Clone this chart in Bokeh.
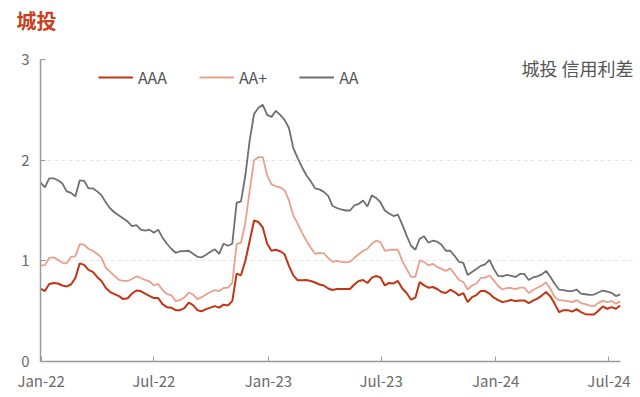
from datetime import date, datetime, timedelta
from bokeh.plotting import figure
from bokeh.models import Range1d, FixedTicker, Legend, LegendItem, Label, Title
from bokeh.embed import file_html
from bokeh.resources import INLINE

# ---- data (weekly) ----
start_date = date(2021, 12, 31)
n_weeks = 134
dates = [start_date + timedelta(days=7 * i) for i in range(n_weeks)]

aa = [1.78, 1.73, 1.82, 1.82, 1.80, 1.77, 1.69, 1.675, 1.64, 1.80,
      1.795, 1.72, 1.72, 1.69, 1.65, 1.58, 1.52, 1.48, 1.45, 1.42,
      1.39, 1.345, 1.355, 1.31, 1.30, 1.31, 1.28, 1.31, 1.23, 1.17,
      1.12, 1.08, 1.095, 1.097, 1.10, 1.07, 1.04, 1.035, 1.06, 1.09,
      1.115, 1.07, 1.17, 1.15, 1.17, 1.575, 1.59, 1.85, 2.20, 2.46,
      2.52, 2.55, 2.45, 2.43, 2.49, 2.45, 2.40, 2.32, 2.12, 2.02,
      1.93, 1.85, 1.79, 1.72, 1.71, 1.685, 1.645, 1.545, 1.525, 1.51,
      1.50, 1.50, 1.55, 1.565, 1.60, 1.54, 1.65, 1.625, 1.58, 1.50,
      1.47, 1.445, 1.46, 1.36, 1.25, 1.15, 1.11, 1.22, 1.244, 1.18,
      1.20, 1.19, 1.16, 1.10, 1.10, 1.05, 0.99, 0.98, 0.86, 0.89,
      0.92, 0.95, 0.965, 1.01, 0.92, 0.85, 0.846, 0.86, 0.85, 0.84,
      0.87, 0.87, 0.81, 0.835, 0.846, 0.865, 0.90, 0.84, 0.77, 0.713,
      0.708, 0.70, 0.70, 0.715, 0.674, 0.668, 0.662, 0.665, 0.685, 0.705,
      0.694, 0.682, 0.65, 0.667]

aa_plus = [0.955, 0.955, 1.03, 1.035, 1.01, 0.98, 0.975, 1.04, 1.045, 1.165,
           1.16, 1.12, 1.10, 1.07, 1.03, 0.93, 0.89, 0.85, 0.81, 0.80,
           0.80, 0.82, 0.845, 0.83, 0.81, 0.795, 0.756, 0.77, 0.71, 0.67,
           0.66, 0.60, 0.61, 0.635, 0.685, 0.665, 0.62, 0.64, 0.665, 0.69,
           0.71, 0.70, 0.73, 0.733, 0.78, 1.165, 1.18, 1.38, 1.70, 2.00,
           2.03, 2.03, 1.85, 1.76, 1.74, 1.73, 1.70, 1.60, 1.45, 1.37,
           1.28, 1.20, 1.13, 1.07, 1.08, 1.075, 1.03, 0.99, 1.00, 0.99,
           0.985, 0.99, 1.03, 1.065, 1.10, 1.12, 1.17, 1.20, 1.185, 1.10,
           1.11, 1.11, 1.11, 1.00, 0.92, 0.84, 0.84, 1.005, 0.99, 0.955,
           0.97, 0.94, 0.92, 0.90, 0.925, 0.87, 0.81, 0.79, 0.715, 0.755,
           0.775, 0.83, 0.833, 0.855, 0.806, 0.75, 0.715, 0.73, 0.73, 0.72,
           0.733, 0.733, 0.68, 0.71, 0.733, 0.755, 0.785, 0.72, 0.64, 0.607,
           0.607, 0.60, 0.59, 0.61, 0.58, 0.57, 0.555, 0.55, 0.58, 0.605,
           0.59, 0.60, 0.574, 0.597]

aaa = [0.723, 0.70, 0.77, 0.779, 0.775, 0.755, 0.746, 0.765, 0.83, 0.975,
       0.96, 0.91, 0.89, 0.84, 0.80, 0.73, 0.69, 0.67, 0.65, 0.62,
       0.628, 0.675, 0.705, 0.70, 0.675, 0.652, 0.63, 0.63, 0.57, 0.54,
       0.534, 0.51, 0.51, 0.53, 0.585, 0.56, 0.51, 0.50, 0.52, 0.535,
       0.55, 0.535, 0.565, 0.557, 0.60, 0.873, 0.856, 1.00, 1.20, 1.40,
       1.386, 1.33, 1.17, 1.10, 1.11, 1.095, 1.065, 0.95, 0.856, 0.806,
       0.806, 0.81, 0.80, 0.785, 0.765, 0.755, 0.725, 0.71, 0.72, 0.72,
       0.72, 0.72, 0.765, 0.80, 0.81, 0.78, 0.83, 0.85, 0.835, 0.756,
       0.78, 0.775, 0.80, 0.725, 0.68, 0.614, 0.634, 0.79, 0.756, 0.733,
       0.74, 0.72, 0.69, 0.68, 0.713, 0.69, 0.657, 0.68, 0.59, 0.64,
       0.66, 0.70, 0.70, 0.675, 0.634, 0.61, 0.59, 0.60, 0.61, 0.60,
       0.607, 0.607, 0.58, 0.605, 0.624, 0.655, 0.69, 0.645, 0.57, 0.49,
       0.51, 0.51, 0.495, 0.52, 0.49, 0.47, 0.468, 0.468, 0.505, 0.547,
       0.524, 0.54, 0.524, 0.557]

series_names = ["AAA", "AA+", "AA"]
tick_dates = [date(2022, 1, 1), date(2022, 7, 1), date(2023, 1, 1),
              date(2023, 7, 1), date(2024, 1, 1), date(2024, 7, 1)]
tick_labels = ["Jan-22", "Jul-22", "Jan-23", "Jul-23", "Jan-24", "Jul-24"]
y_ticks = [0, 1, 2, 3]
title_text = "城投"
note_text = "城投 信用利差"

# ---- styling ----
FONT = "Noto Sans CJK SC"
C_AAA = "#C23412"
C_AAP = "#E9A08B"
C_AA = "#6F6F6F"
AXIS_C = "#9A9A9A"
LABEL_C = "#6B6B6B"

def ms(d):
    return (datetime(d.year, d.month, d.day) - datetime(1970, 1, 1)).total_seconds() * 1000.0

xs = [ms(d) for d in dates]

W, H = 640, 397
LEFT, RIGHT_FRAME, DATA_END_PX = 40, 636, 619.7
x_start = ms(date(2021, 12, 31))
scale = (DATA_END_PX - LEFT) / (xs[-1] - x_start)
x_end = x_start + (RIGHT_FRAME - LEFT) / scale

p = figure(width=W, height=H, x_axis_type="datetime", title=None,
           output_backend="svg", toolbar_location=None,
           x_range=Range1d(x_start, x_end), y_range=Range1d(0, 3),
           min_border_left=LEFT, min_border_right=W - RIGHT_FRAME,
           min_border_top=59, min_border_bottom=36)

# spacer between frame and title, then the title itself
p.add_layout(Title(text=" ", text_font_size="1px", standoff=22), "above")
p.add_layout(Title(text=title_text, text_color="#C8401E", text_font=FONT,
                   text_font_size="20px", text_font_style="bold",
                   align="left", offset=-24, standoff=0), "above")

p.outline_line_color = None
p.background_fill_color = "white"
p.border_fill_color = "white"

# grid
p.xgrid.grid_line_color = None
p.ygrid.grid_line_color = "#E6E6E6"
p.ygrid.grid_line_dash = "4 3"
p.ygrid.grid_line_width = 1
p.ygrid.ticker = FixedTicker(ticks=y_ticks)

# axes
p.xaxis.ticker = FixedTicker(ticks=[ms(d) for d in tick_dates])
p.xaxis.major_label_overrides = {ms(d): lbl for d, lbl in zip(tick_dates, tick_labels)}
p.xaxis.bounds = (x_start, xs[-1])
p.yaxis.ticker = FixedTicker(ticks=y_ticks)
for ax in (p.xaxis[0], p.yaxis[0]):
    ax.axis_line_color = AXIS_C
    ax.axis_line_width = 1.5
    ax.major_tick_line_color = AXIS_C
    ax.major_tick_line_width = 1
    ax.major_tick_in = 5
    ax.major_tick_out = 0
    ax.minor_tick_line_color = None
    ax.major_label_text_color = LABEL_C
    ax.major_label_text_font = FONT
    ax.major_label_text_font_size = "15px"
p.xaxis.major_label_standoff = 8
p.yaxis.major_label_standoff = 11

r_aaa = p.line(xs, aaa, line_color=C_AAA, line_width=2)
r_aap = p.line(xs, aa_plus, line_color=C_AAP, line_width=1.8)
r_aa = p.line(xs, aa, line_color=C_AA, line_width=1.8)

legend = Legend(items=[LegendItem(label=series_names[0], renderers=[r_aaa]),
                       LegendItem(label=series_names[1], renderers=[r_aap]),
                       LegendItem(label=series_names[2], renderers=[r_aa])],
                orientation="horizontal", location=(58, 272),
                glyph_width=35, glyph_height=20, label_height=20,
                label_standoff=5, spacing=32, padding=0, margin=0,
                border_line_color=None, background_fill_alpha=0,
                label_text_font=FONT, label_text_font_size="16px",
                label_text_color="#555555")
p.add_layout(legend, "center")

note = Label(x=x_start + (633 - LEFT) / scale, y=2.92, text=note_text,
             text_align="right", text_baseline="middle",
             text_font=FONT, text_font_size="18px", text_color="#555555")
p.add_layout(note)

open("out.html", "w").write(file_html(p, INLINE))
